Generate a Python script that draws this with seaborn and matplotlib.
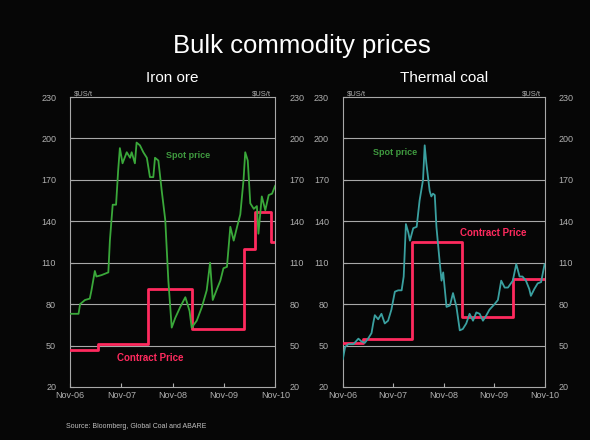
import pandas as pd
import seaborn as sns
import matplotlib.pyplot as plt

# iron ore spot, $US/t
iron_dates = ['2006-11-01', '2007-01-01', '2007-01-12', '2007-02-16', '2007-03-22', '2007-04-03',
              '2007-04-27', '2007-05-08', '2007-06-13', '2007-08-01', '2007-08-12', '2007-09-01',
              '2007-09-25', '2007-10-10', '2007-10-22', '2007-11-10', '2007-12-10', '2008-01-03',
              '2008-01-14', '2008-02-06', '2008-02-18', '2008-03-13', '2008-04-06', '2008-05-01',
              '2008-05-23', '2008-06-16', '2008-06-28', '2008-07-22', '2008-08-15', '2008-09-09',
              '2008-10-01', '2008-10-25', '2008-11-19', '2008-12-25', '2009-01-30', '2009-03-01',
              '2009-03-16', '2009-04-21', '2009-05-28', '2009-07-01', '2009-07-25', '2009-08-13',
              '2009-09-12', '2009-10-06', '2009-10-28', '2009-11-22', '2009-12-16', '2010-01-09',
              '2010-02-02', '2010-02-25', '2010-03-20', '2010-04-01', '2010-04-19', '2010-05-07',
              '2010-06-01', '2010-06-23', '2010-07-04', '2010-07-28', '2010-08-22', '2010-09-15',
              '2010-10-09', '2010-11-01']
iron_spot = [73, 73, 80, 83, 84, 90, 104, 100, 101, 103, 126, 152,
             152, 177, 193, 182, 190, 186, 190, 182, 197, 195, 190, 186,
             172, 172, 186, 184, 162, 141, 97, 63, 70, 78, 85, 75,
             63, 68, 78, 90, 110, 83, 91, 97, 106, 107, 136, 126,
             136, 145, 170, 190, 184, 153, 149, 151, 131, 158, 148, 159,
             160, 166]

iron_contract_dates = ['2006-11-01', '2007-05-20', '2008-05-12', '2009-03-16',
                       '2010-03-20', '2010-06-12', '2010-09-28', '2010-11-01']
iron_contract = [47, 51, 91, 62, 120, 147, 125, 125]

# thermal coal spot, $US/t
coal_dates = ['2006-11-01', '2006-11-18', '2006-12-11', '2007-01-17', '2007-02-22', '2007-03-16',
              '2007-04-10', '2007-05-03', '2007-05-28', '2007-06-09', '2007-06-21', '2007-07-15',
              '2007-08-08', '2007-09-01', '2007-09-25', '2007-10-19', '2007-11-13', '2007-12-07',
              '2008-01-01', '2008-01-16', '2008-02-01', '2008-02-18', '2008-03-01', '2008-03-25',
              '2008-04-19', '2008-05-10', '2008-06-04', '2008-06-16', '2008-06-28', '2008-07-22',
              '2008-08-03', '2008-08-15', '2008-08-28', '2008-09-09', '2008-10-04', '2008-10-16',
              '2008-10-28', '2008-11-21', '2008-12-16', '2009-01-07', '2009-02-01', '2009-02-25',
              '2009-03-19', '2009-04-13', '2009-05-07', '2009-06-01', '2009-06-25', '2009-07-19',
              '2009-08-12', '2009-09-06', '2009-09-28', '2009-11-04', '2009-11-28', '2009-12-22',
              '2010-01-16', '2010-02-09', '2010-03-16', '2010-04-10', '2010-05-04', '2010-05-25',
              '2010-06-19', '2010-07-13', '2010-07-25', '2010-08-19', '2010-09-12', '2010-10-07',
              '2010-11-01']
coal_spot = [40, 49, 51, 51, 55, 53, 52, 55, 59, 66, 72, 69,
             73, 66, 68, 76, 89, 90, 90, 100, 138, 132, 126, 135,
             136, 155, 170, 195, 182, 162, 158, 160, 159, 136, 109, 97,
             103, 78, 79, 88, 78, 61, 62, 66, 73, 68, 74, 73,
             68, 72, 76, 80, 83, 97, 92, 92, 97, 109, 100, 100,
             97, 91, 86, 91, 95, 96, 109]

coal_contract_dates = ['2006-11-01', '2007-03-28', '2008-03-19', '2009-03-13',
                       '2010-03-16', '2010-11-01']
coal_contract = [52, 55, 125, 71, 98, 98]

yticks = [20, 50, 80, 110, 140, 170, 200, 230]
xtick_dates = ['2006-11-01', '2007-11-01', '2008-11-01', '2009-11-01', '2010-11-01']
xtick_labels = ['Nov-06', 'Nov-07', 'Nov-08', 'Nov-09', 'Nov-10']

bg = '#060606'
tick_col = '#b0b0b0'
grid_col = '#a8a8a8'
red = '#ff2a5e'

sns.set_style('dark')
plt.rcParams['font.family'] = ['Liberation Sans', 'DejaVu Sans']

fig = plt.figure(figsize=(5.9, 4.4), dpi=100, facecolor=bg)


def panel(rect, title, dates, spot, spot_col, c_dates, c_vals, spot_xy, con_xy):
    ax = fig.add_axes(rect)
    ax.set_facecolor(bg)
    df = pd.DataFrame({'date': pd.to_datetime(dates), 'price': spot})
    dc = pd.DataFrame({'date': pd.to_datetime(c_dates), 'price': c_vals})
    sns.lineplot(data=dc, x='date', y='price', ax=ax, color=red, lw=2.0,
                 drawstyle='steps-post', zorder=3)
    sns.lineplot(data=df, x='date', y='price', ax=ax, color=spot_col, lw=1.3, zorder=4)
    ax.set_xlim(pd.Timestamp('2006-11-01'), pd.Timestamp('2010-11-01'))
    ax.set_ylim(20, 230)
    ax.set_yticks(yticks)
    ax.set_xticks(pd.to_datetime(xtick_dates))
    ax.set_xticklabels(xtick_labels)
    ax.set_xlabel('')
    ax.set_ylabel('')
    ax.grid(False)
    for y in yticks[1:-1]:
        ax.axhline(y, color=grid_col, lw=0.8, zorder=1)
    for s in ax.spines.values():
        s.set_visible(True)
        s.set_color(grid_col)
        s.set_linewidth(0.8)
    ax.tick_params(axis='both', colors=tick_col, labelsize=6.5, length=3,
                   direction='in', left=False, bottom=True)
    ax.tick_params(axis='x', pad=3)
    ax2 = ax.twinx()
    ax2.set_ylim(20, 230)
    ax2.set_yticks(yticks)
    ax2.tick_params(axis='y', colors=tick_col, labelsize=6.5, length=0, pad=10)
    for s in ax2.spines.values():
        s.set_visible(False)
    ax.tick_params(axis='y', pad=10)
    ax.text(0.02, 1.0, '$US/t', transform=ax.transAxes, color=tick_col,
            fontsize=5.5, va='bottom', ha='left')
    ax.text(0.98, 1.0, '$US/t', transform=ax.transAxes, color=tick_col,
            fontsize=5.5, va='bottom', ha='right')
    ax.text(0.5, 1.052, title, transform=ax.transAxes, color='white',
            fontsize=11, ha='center', va='baseline')
    ax.text(spot_xy[0], spot_xy[1], 'Spot price', transform=ax.transAxes,
            color='#3f9a3f', fontsize=6.5, fontweight='bold')
    ax.text(con_xy[0], con_xy[1], 'Contract Price', transform=ax.transAxes,
            color=red, fontsize=7, fontweight='bold')
    return ax


panel([0.1186, 0.1205, 0.348, 0.659], 'Iron ore', iron_dates, iron_spot, '#3aa83a',
      iron_contract_dates, iron_contract, (0.47, 0.79), (0.23, 0.09))
panel([0.581, 0.1205, 0.342, 0.659], 'Thermal coal', coal_dates, coal_spot, '#3aa0a0',
      coal_contract_dates, coal_contract, (0.15, 0.80), (0.58, 0.52))

fig.text(0.512, 0.88, 'Bulk commodity prices', color='white', fontsize=18.5,
         ha='center', va='baseline')
fig.text(0.112, 0.028, 'Source: Bloomberg, Global Coal and ABARE', color='#c0c0c0', fontsize=5)

fig.savefig('out.png', dpi=100, facecolor=bg)
